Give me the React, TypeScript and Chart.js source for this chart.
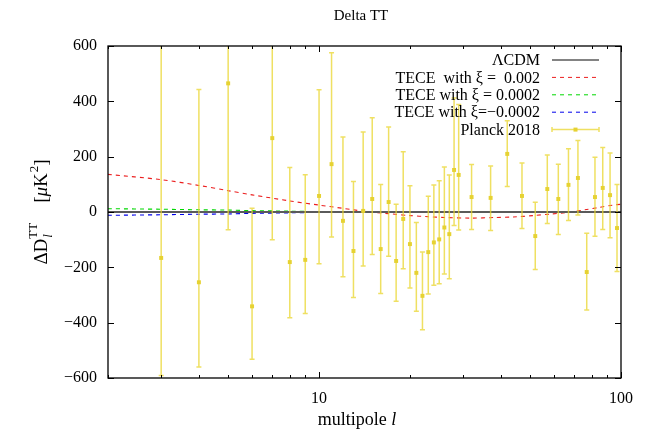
import React, { useEffect, useRef } from "react";
import { Chart, registerables } from "chart.js";

Chart.register(...registerables);

// Planck 2018 points (multipole, value, upper end of error bar, lower end)
const ell = [3,4,5,6,7,8,9,10,11,12,13,14,15,16,17,18,19,20,21,22,23,24,25,26,27,28,29,32,37,42,47,52,57,62,67,72,77,82,87,92,97];
const dl = [-166,-254,465,-341,267,-181,-173,58,173,-32,-141,4,47,-134,36,-177,-25,-116,-220,-303,-145,-110,-99,-56,-80,152,134,54,51,210,58,-87,83,47,98,123,-217,54,87,61,-58];
const dlUpper = [800,443,900,14,800,161,135,442,576,271,110,289,341,99,307,28,218,95,-38,-145,57,98,113,163,134,412,389,172,166,330,177,35,206,173,229,258,-77,198,233,213,99];
const dlLower = [-591,-560,-64,-532,-100,-382,-367,-187,-90,-234,-309,-195,-154,-295,-160,-323,-205,-275,-359,-426,-296,-265,-259,-224,-241,-49,-65,-63,-67,92,-60,-208,-42,-81,-31,-11,-354,-88,-63,-93,-215];

// Theory curves
const thL = [2,3,4,5,6,8,10,13,14,17,20,23,26,32,38,44,51,59,66,77,84,94,100];
const lcdm = [0,0,0,0,0,0,0,0,0,0,0,0,0,0,0,0,0,0,0,0,0,0,0];
const tece002 = [136,117,96,77,62,40,25,8,3,-6,-13,-17,-20,-22,-20,-18,-13,-7,-2,9,16,25,28];
const tece0002 = [12,10,8,7,5,3,1.5,0.5,0.3,0,0,0,0,0,0,0,0,0,0,0,0,0,0];
const teceNeg0002 = [-12,-10,-8,-7,-5,-3,-1.5,-0.5,-0.3,0,0,0,0,0,0,0,0,0,0,0,0,0,0];

const yTicks = [-600,-400,-200,0,200,400,600];
const xMajor = [10,100];
const xMinor = [2,3,4,5,6,7,8,9,20,30,40,50,60,70,80,90];

const legendLabels = ["\u039BCDM", "TECE  with \u03BE =  0.002", "TECE with \u03BE = 0.0002", "TECE with \u03BE=\u22120.0002", "Planck 2018"];

const FONT = "'Liberation Serif', 'Times New Roman', serif";
const BAR = "rgba(234,214,45,0.75)";
const PT = "#e6d232";
const COLORS = ["#5a5a5a", "rgb(235,30,30)", "rgb(0,215,0)", "rgb(0,0,235)"];

const pts = (xs: number[], ys: number[]) => xs.map((x, i) => ({ x, y: ys[i] }));

const custom = {
  id: "custom",
  beforeDatasetDraw(chart: any, args: any) {
    if (args.index !== 0) return;
    const { ctx, chartArea: a, scales } = chart;
    const xs = scales.x, ys = scales.y;
    ctx.save();
    ctx.beginPath();
    ctx.rect(a.left, a.top, a.right - a.left, a.bottom - a.top);
    ctx.clip();
    ctx.strokeStyle = BAR;
    ctx.lineWidth = 1.5;
    for (let i = 0; i < ell.length; i++) {
      const px = xs.getPixelForValue(ell[i]);
      const y1 = ys.getPixelForValue(dlUpper[i]);
      const y2 = ys.getPixelForValue(dlLower[i]);
      ctx.beginPath();
      ctx.moveTo(px, y1); ctx.lineTo(px, y2);
      ctx.moveTo(px - 2.5, y1); ctx.lineTo(px + 2.5, y1);
      ctx.moveTo(px - 2.5, y2); ctx.lineTo(px + 2.5, y2);
      ctx.stroke();
    }
    ctx.restore();
  },
  afterDraw(chart: any) {
    const { ctx, chartArea: a, scales } = chart;
    const xs = scales.x, ys = scales.y;
    ctx.save();
    // frame
    ctx.strokeStyle = "#000";
    ctx.lineWidth = 1.3;
    ctx.strokeRect(a.left, a.top, a.right - a.left, a.bottom - a.top);
    ctx.beginPath();
    ctx.lineWidth = 1;
    yTicks.forEach((v) => {
      const y = Math.round(ys.getPixelForValue(v)) + 0.5;
      ctx.moveTo(a.left, y); ctx.lineTo(a.left + 6, y);
      ctx.moveTo(a.right, y); ctx.lineTo(a.right - 6, y);
    });
    xMajor.forEach((v) => {
      const x = Math.round(xs.getPixelForValue(v)) + 0.5;
      ctx.moveTo(x, a.bottom); ctx.lineTo(x, a.bottom - 6);
      ctx.moveTo(x, a.top); ctx.lineTo(x, a.top + 6);
    });
    xMinor.forEach((v) => {
      const x = Math.round(xs.getPixelForValue(v)) + 0.5;
      ctx.moveTo(x, a.bottom); ctx.lineTo(x, a.bottom - 3);
      ctx.moveTo(x, a.top); ctx.lineTo(x, a.top + 3);
    });
    ctx.stroke();

    // title
    ctx.fillStyle = "#000";
    ctx.textAlign = "center";
    ctx.textBaseline = "middle";
    ctx.font = `15px ${FONT}`;
    ctx.fillText("Delta TT", 361, 16);

    // x label
    const t1 = "multipole ";
    ctx.font = `18px ${FONT}`;
    const w1 = ctx.measureText(t1).width;
    ctx.font = `italic 18px ${FONT}`;
    const w2 = ctx.measureText("l").width;
    const sx = 357 - (w1 + w2) / 2;
    ctx.textAlign = "left";
    ctx.textBaseline = "alphabetic";
    ctx.font = `18px ${FONT}`;
    ctx.fillText(t1, sx, 425);
    ctx.font = `italic 18px ${FONT}`;
    ctx.fillText("l", sx + w1, 425);

    // y label (rotated)
    ctx.save();
    ctx.translate(47, 212);
    ctx.rotate(-Math.PI / 2);
    const big = `19px ${FONT}`;
    const bigIt = `italic 19px ${FONT}`;
    const small = `13px ${FONT}`;
    const smallIt = `italic 13px ${FONT}`;
    const meas = (f: string, s: string) => { ctx.font = f; return ctx.measureText(s).width; };
    const wDD = meas(big, "\u0394D");
    const wSub = Math.max(meas(smallIt, "l"), meas(small, "TT"));
    const gap = 20;
    const wB1 = meas(big, "[");
    const wMu = meas(bigIt, "\u03BC");
    const wK = meas(big, "K");
    const w2s = meas(small, "2");
    const wB2 = meas(big, "]");
    const total = wDD + wSub + gap + wB1 + wMu + wK + w2s + 1 + wB2;
    let x = -total / 2;
    ctx.font = big; ctx.fillText("\u0394D", x, 0); x += wDD;
    ctx.font = smallIt; ctx.fillText("l", x + 1, 5);
    ctx.font = small; ctx.fillText("TT", x, -10); x += wSub + gap;
    ctx.font = big; ctx.fillText("[", x, 0); x += wB1;
    ctx.font = bigIt; ctx.fillText("\u03BC", x, 0); x += wMu;
    ctx.font = big; ctx.fillText("K", x, 0); x += wK;
    ctx.font = small; ctx.fillText("2", x + 1, -9); x += w2s + 1;
    ctx.font = big; ctx.fillText("]", x, 0);
    ctx.restore();

    // legend
    const textRight = 540, s1 = 552, s2 = 599, y0 = 60, dy = 17.4;
    ctx.font = `16px ${FONT}`;
    ctx.textAlign = "right";
    ctx.textBaseline = "middle";
    legendLabels.forEach((lab, i) => {
      const y = y0 + i * dy;
      ctx.fillStyle = "#000";
      ctx.fillText(lab, textRight, y + 1);
      ctx.beginPath();
      if (i < 4) {
        ctx.strokeStyle = COLORS[i];
        ctx.lineWidth = i === 0 ? 1.5 : 1;
        ctx.setLineDash(i === 0 ? [] : [4, 4]);
        ctx.moveTo(s1, y); ctx.lineTo(s2, y);
        ctx.stroke();
        ctx.setLineDash([]);
      } else {
        ctx.strokeStyle = BAR;
        ctx.lineWidth = 1.5;
        ctx.moveTo(s1, y); ctx.lineTo(s2, y);
        ctx.moveTo(s1, y - 2.5); ctx.lineTo(s1, y + 2.5);
        ctx.moveTo(s2, y - 2.5); ctx.lineTo(s2, y + 2.5);
        ctx.stroke();
        ctx.fillStyle = PT;
        ctx.fillRect((s1 + s2) / 2 - 2, y - 2, 4, 4);
      }
    });
    ctx.restore();
  },
};

export default function App() {
  const ref = useRef<HTMLCanvasElement | null>(null);
  useEffect(() => {
    document.body.style.margin = "0";
    const lineDs = (data: number[], i: number) => ({
      type: "line" as const,
      data: pts(thL, data),
      borderColor: COLORS[i],
      borderWidth: i === 0 ? 1.8 : 1.1,
      borderDash: i === 0 ? [] : [4, 4],
      pointRadius: 0,
      fill: false,
      tension: 0.3,
    });
    const chart = new Chart(ref.current as HTMLCanvasElement, {
      type: "scatter",
      data: {
        datasets: [
          {
            data: pts(ell, dl),
            pointStyle: "rect",
            pointRadius: 2.8,
            backgroundColor: PT,
            borderColor: PT,
            borderWidth: 0,
          } as any,
          lineDs(lcdm, 0),
          lineDs(tece002, 1),
          lineDs(tece0002, 2),
          lineDs(teceNeg0002, 3),
        ],
      },
      options: {
        animation: false,
        responsive: true,
        maintainAspectRatio: false,
        layout: { padding: { top: 46, right: 27, left: 0, bottom: 0 } },
        plugins: { legend: { display: false }, tooltip: { enabled: false }, title: { display: false } },
        scales: {
          x: {
            type: "logarithmic",
            min: 2,
            max: 100,
            grid: { display: false, drawTicks: false },
            border: { display: false },
            afterBuildTicks: (s: any) => { s.ticks = xMajor.map((v) => ({ value: v })); },
            afterFit: (s: any) => { s.height = 56; },
            ticks: {
              autoSkip: false,
              maxRotation: 0,
              padding: 11,
              color: "#000",
              font: { family: FONT, size: 16 },
              callback: (v: any) => String(v),
            },
          },
          y: {
            min: -600,
            max: 600,
            grid: { display: false, drawTicks: false },
            border: { display: false },
            afterBuildTicks: (s: any) => { s.ticks = yTicks.map((v) => ({ value: v })); },
            afterFit: (s: any) => { s.width = 108; },
            ticks: {
              padding: 11,
              color: "#000",
              font: { family: FONT, size: 16 },
              callback: (v: any) => String(v).replace("-", "\u2212"),
            },
          },
        },
      },
      plugins: [custom],
    });
    return () => chart.destroy();
  }, []);
  return (
    <div style={{ position: "fixed", left: 0, top: 0, width: 648, height: 434, background: "#fff" }}>
      <canvas ref={ref} />
    </div>
  );
}
